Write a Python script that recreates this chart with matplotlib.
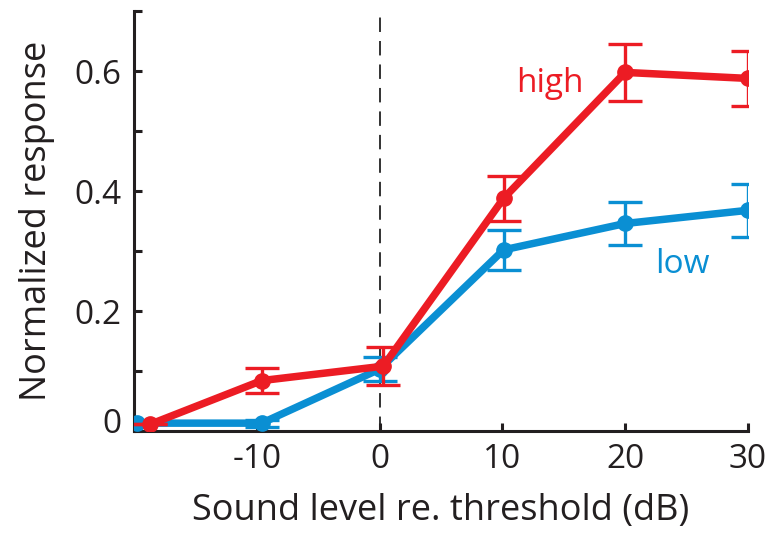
import matplotlib.pyplot as plt
import matplotlib.transforms as mtransforms

plt.rcParams['font.family'] = ['Open Sans', 'DejaVu Sans']

## datos
x_high = [-18.7, -9.6, 0.3, 10.1, 20.0, 30.0]
y_high = [0.011, 0.084, 0.108, 0.388, 0.598, 0.588]
err_high = [0.0, 0.021, 0.032, 0.038, 0.048, 0.046]

x_low = [-19.8, -9.6, 0.0, 10.1, 20.0, 30.0]
y_low = [0.013, 0.013, 0.103, 0.302, 0.346, 0.368]
err_low = [0.0, 0.006, 0.020, 0.033, 0.036, 0.044]

x_ticks = [-10, 0, 10, 20, 30]
y_ticks = [0, 0.1, 0.2, 0.3, 0.4, 0.5, 0.6, 0.7]
y_ticklabels = ["0", "", "0.2", "", "0.4", "", "0.6", ""]

RED = "#ec1c24"
BLUE = "#0a8fd3"

fig = plt.figure(figsize=(7.75, 5.36), dpi=100)
ax = fig.add_axes([0.173, 0.196, 0.792, 0.783])

ax.axvline(0, color="#222222", lw=1.3, ls=(0, (8, 5)), zorder=1)

ax.errorbar(x_low, y_low, yerr=err_low, color=BLUE, lw=5.4, marker="o", ms=11,
            elinewidth=2.4, capsize=12, capthick=2.4, zorder=3)
ax.errorbar(x_high, y_high, yerr=err_high, color=RED, lw=5.4, marker="o", ms=11,
            elinewidth=2.4, capsize=12, capthick=2.4, zorder=4)

ax.text(13.9, 0.579, "high", color=RED, fontsize=24, ha="center", va="center")
ax.text(24.7, 0.277, "low", color=BLUE, fontsize=24, ha="center", va="center")

ax.set_xlim(-20, 30)
ax.set_ylim(0, 0.7)
ax.set_xticks(x_ticks)
ax.set_xticklabels([str(t) for t in x_ticks])
ax.set_yticks(y_ticks)
ax.set_yticklabels(y_ticklabels)

for s in ["top", "right"]:
    ax.spines[s].set_visible(False)
for s in ["left", "bottom"]:
    ax.spines[s].set_linewidth(2.2)
    ax.spines[s].set_color("#231f20")

ax.tick_params(direction="in", length=6, width=2.2, color="#231f20",
               labelsize=24, labelcolor="#231f20", pad=9)

# la etiqueta 0 esta un poco mas arriba en el original
lbl0 = ax.get_yticklabels()[0]
lbl0.set_transform(lbl0.get_transform() + mtransforms.ScaledTranslation(0, 0.1, fig.dpi_scale_trans))

ax.set_xlabel("Sound level re. threshold (dB)", fontsize=26, color="#231f20", labelpad=12)
ax.set_ylabel("Normalized response", fontsize=26, color="#231f20", labelpad=14)

fig.savefig("out.png", dpi=100)
